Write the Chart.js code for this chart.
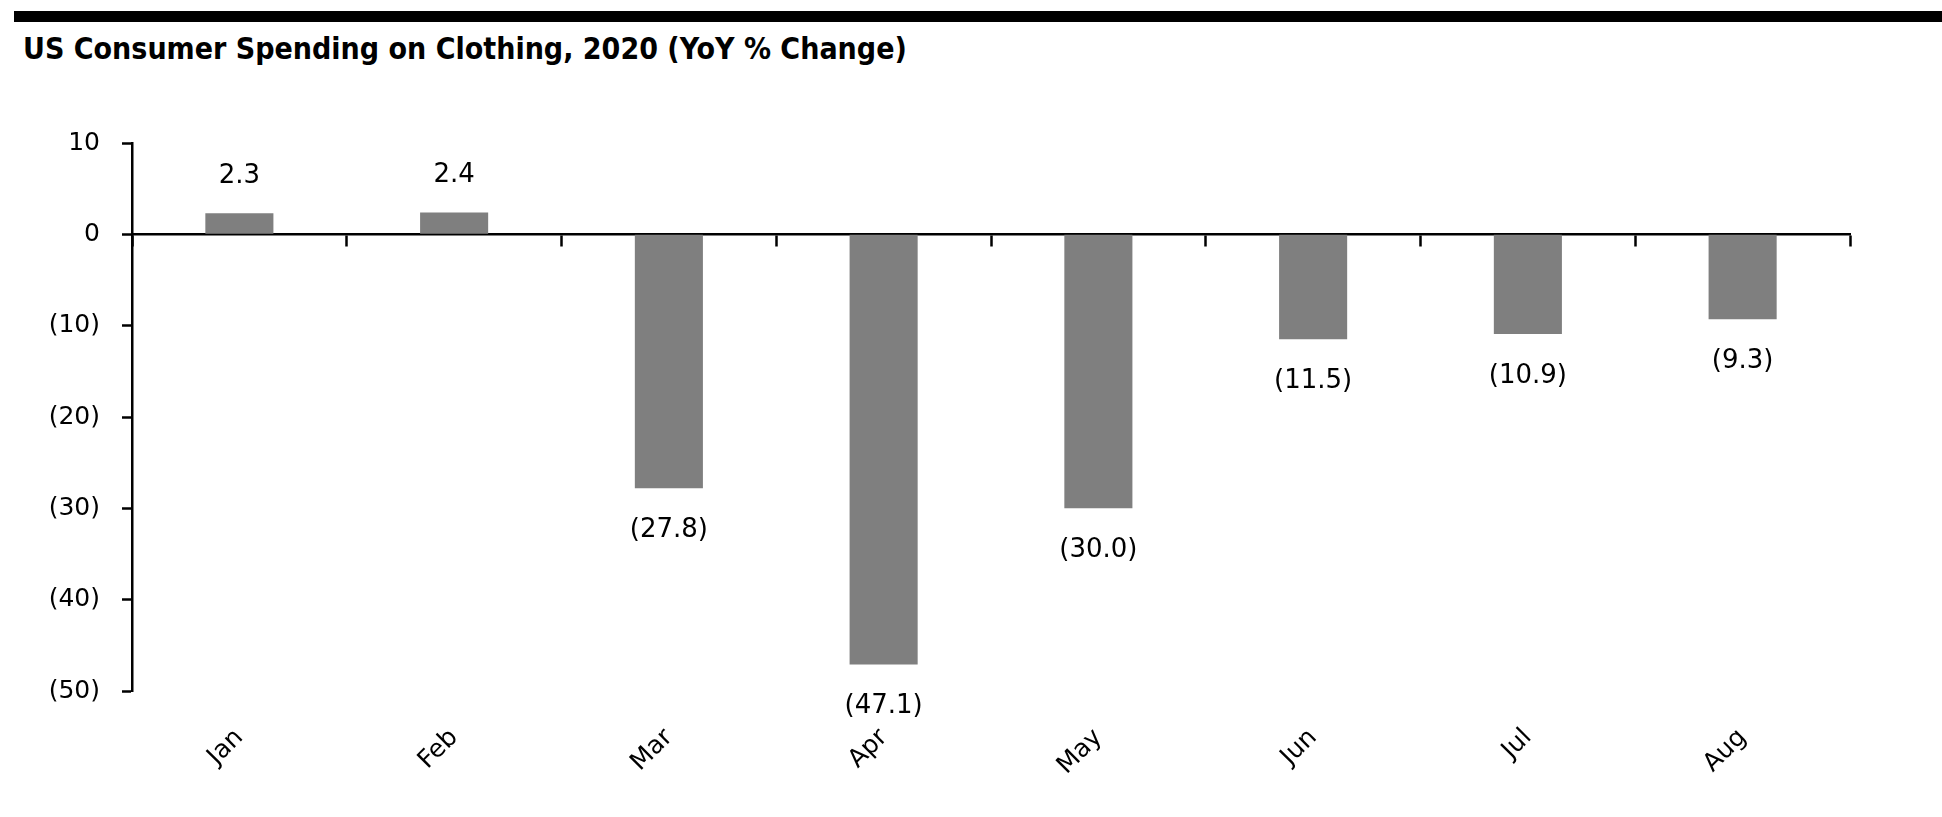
<!DOCTYPE html>
<html>
<head>
<meta charset="utf-8">
<script src="https://cdn.jsdelivr.net/npm/chart.js@4"></script>
<style>
  body { margin: 0; background: #fff; }
  #topbar { position: absolute; left: 14px; top: 11px; right: 0; height: 11px; background: #000; }
  #title { position: absolute; left: 23px; top: 34px; font: bold 30px "DejaVu Sans Condensed", "Liberation Sans Narrow", "DejaVu Sans", sans-serif; line-height: 30px; color: #000; white-space: nowrap; }
  #myChart { position: absolute; left: 0; top: 0; }
</style>
</head>
<body>
<div id="topbar"></div>
<div id="title">US Consumer Spending on Clothing, 2020 (YoY % Change)</div>
<canvas id="myChart" width="1942" height="817"></canvas>
<script>
// chart data
var months = ['Jan', 'Feb', 'Mar', 'Apr', 'May', 'Jun', 'Jul', 'Aug'];
var yoyChange = [2.3, 2.4, -27.8, -47.1, -30.0, -11.5, -10.9, -9.3];
var yTicks = [10, 0, -10, -20, -30, -40, -50];

var labelFont = '26px "DejaVu Sans", sans-serif';

// 2.3 stays 2.3, negatives go in brackets like (27.8)
function fmt(v, digits) {
    var s = Math.abs(v).toFixed(digits);
    return v < 0 ? '(' + s + ')' : s;
}

// draws the value labels just past the end of each bar
var barLabels = {
    id: 'barLabels',
    afterDatasetsDraw: function(chart) {
        var ctx = chart.ctx;
        var meta = chart.getDatasetMeta(0);
        ctx.save();
        ctx.font = labelFont;
        ctx.fillStyle = '#000';
        ctx.textAlign = 'center';
        ctx.textBaseline = 'middle';
        meta.data.forEach(function(bar, k) {
            var v = yoyChange[k];
            var y = v >= 0 ? bar.y - 37 : bar.y + 42;
            ctx.fillText(fmt(v, 1), bar.x, y);
        });
        ctx.restore();
    }
};

window.onload = function() {
    var ctx = document.getElementById('myChart').getContext('2d');
    var chart = new Chart(ctx, {
        type: 'bar',
        data: {
            labels: months,
            datasets: [{
                data: yoyChange,
                backgroundColor: '#7f7f7f',
                borderWidth: 0,
                categoryPercentage: 1,
                barPercentage: 0.317
            }]
        },
        plugins: [barLabels],
        options: {
            responsive: false,
            animation: false,
            devicePixelRatio: 1,
            layout: { padding: { top: 143, right: 92, left: 0, bottom: 0 } },
            plugins: {
                legend: { display: false },
                tooltip: { enabled: false }
            },
            scales: {
                x: {
                    position: 'bottom',
                    offset: true,
                    grid: { display: false },
                    border: { display: false },
                    ticks: {
                        color: '#000',
                        font: { family: '"DejaVu Sans", sans-serif', size: 25 },
                        minRotation: 45,
                        maxRotation: 45,
                        autoSkip: false,
                        padding: 24
                    },
                    afterFit: function(scale) { scale.height = 126; }
                },
                // zero line with the category tick marks hanging below it
                x2: {
                    type: 'category',
                    labels: months,
                    position: { y: 0 },
                    offset: true,
                    z: 1,
                    grid: {
                        offset: true,
                        drawOnChartArea: false,
                        drawTicks: true,
                        tickLength: 11,
                        tickColor: '#000',
                        tickWidth: 2.5
                    },
                    border: { display: true, color: '#000', width: 2.5 },
                    ticks: { display: false }
                },
                y: {
                    min: -50,
                    max: 10,
                    afterBuildTicks: function(scale) {
                        scale.ticks = yTicks.map(function(v) { return { value: v }; });
                    },
                    grid: {
                        drawOnChartArea: false,
                        drawTicks: true,
                        tickLength: 10,
                        tickColor: '#000',
                        tickWidth: 2.5
                    },
                    border: { display: true, color: '#000', width: 2.5 },
                    ticks: {
                        color: '#000',
                        font: { family: '"DejaVu Sans", sans-serif', size: 25 },
                        padding: 22,
                        callback: function(v) { return fmt(v, 0); }
                    },
                    afterFit: function(scale) { scale.width = 132; }
                }
            }
        }
    });
};
</script>
</body>
</html>
